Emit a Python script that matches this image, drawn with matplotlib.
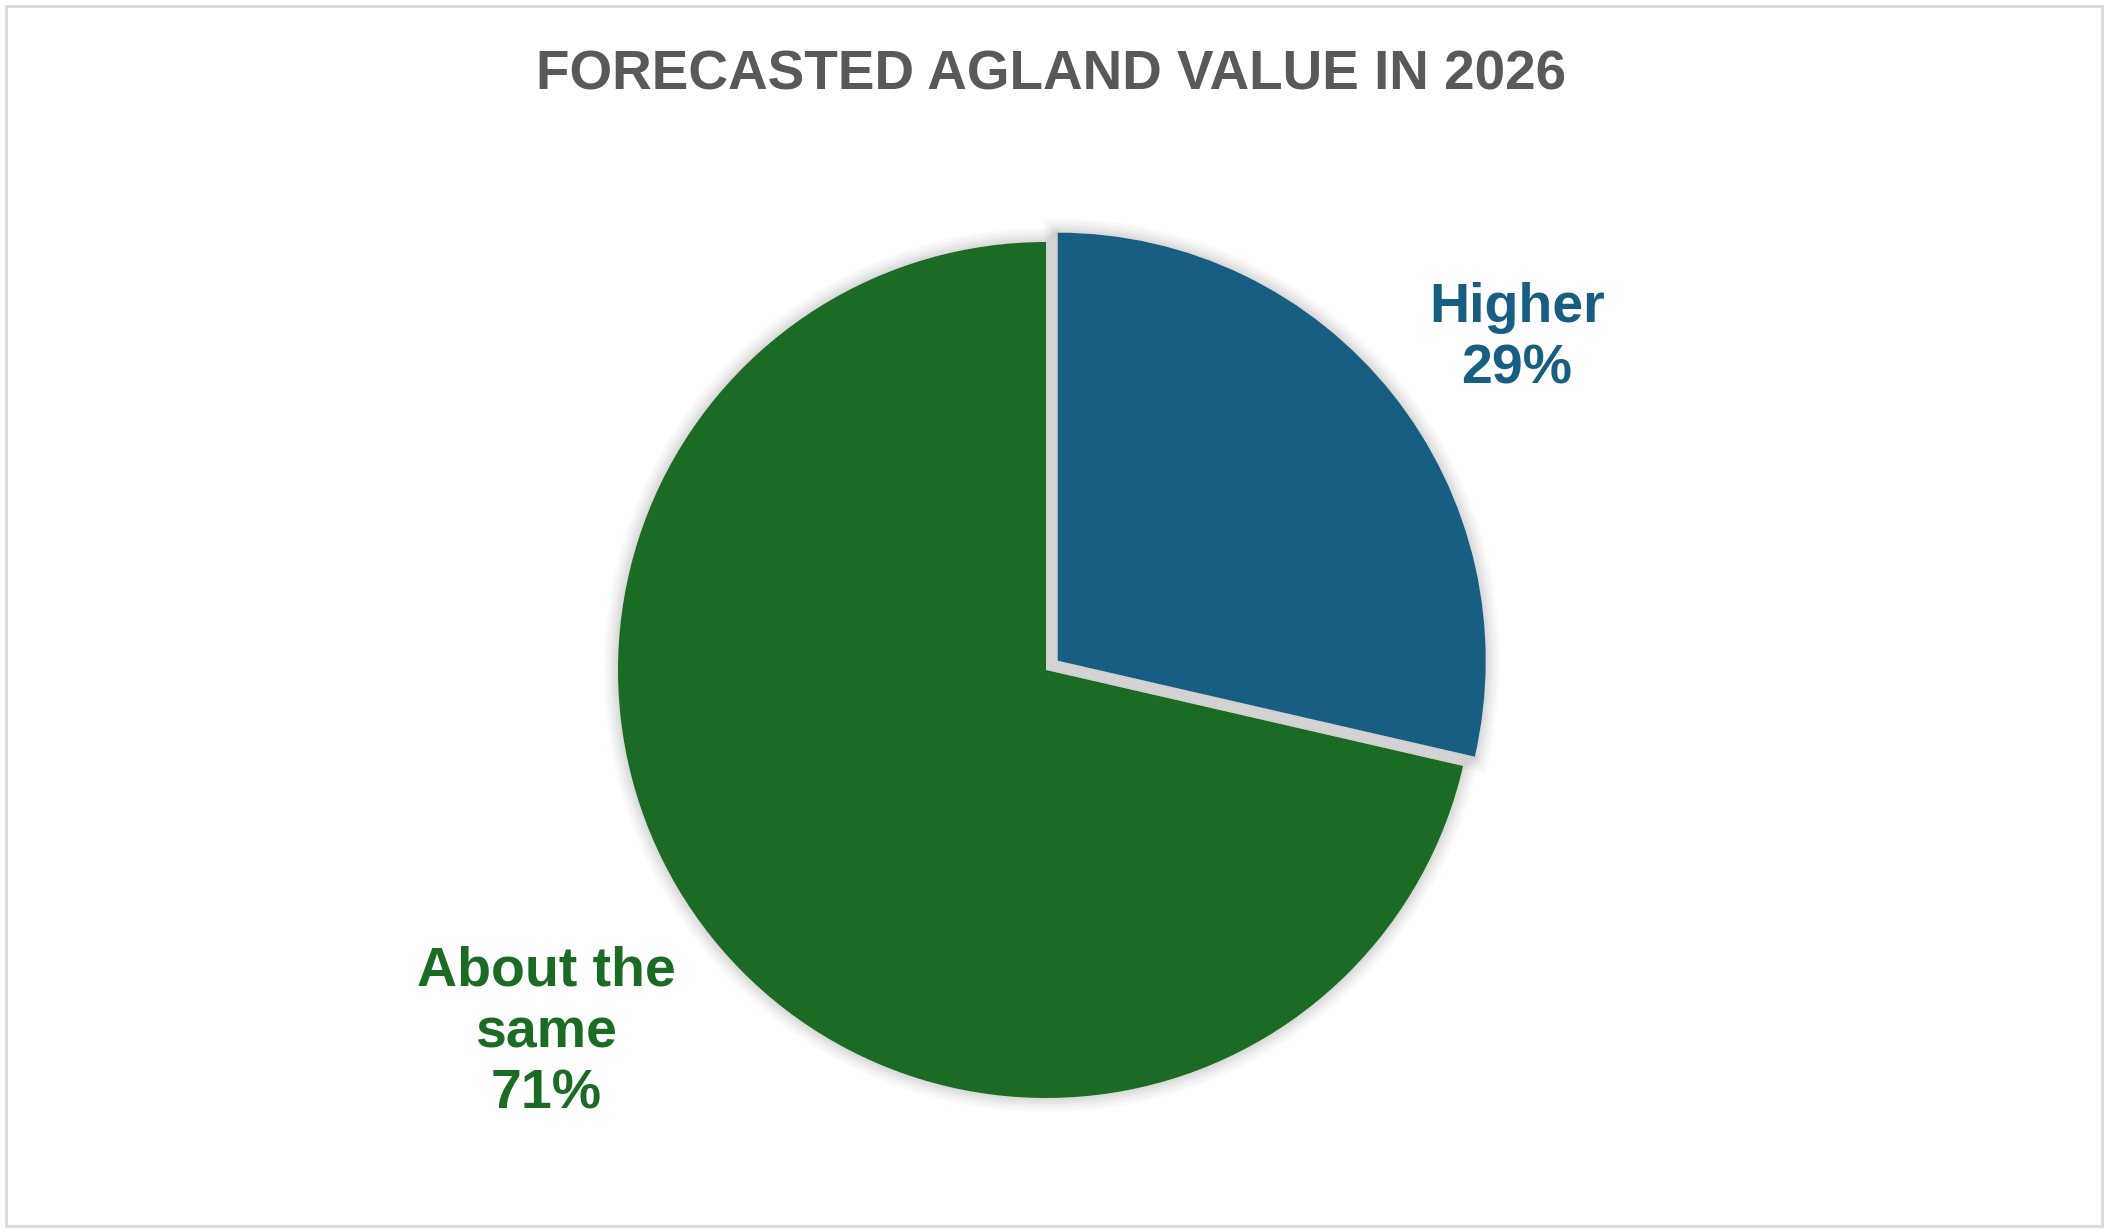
import numpy as np
import matplotlib
matplotlib.use("Agg")
import matplotlib.pyplot as plt
import matplotlib.patheffects as pe
from matplotlib.patches import Rectangle

# data
categories = ["Higher", "About the\nsame"]
shares = [28.6, 71.4]
colors = ["#175E82", "#1B6B25"]

title = "FORECASTED AGLAND VALUE IN 2026"

plt.rcParams["font.family"] = ["Liberation Sans", "DejaVu Sans"]

W, H = 2108, 1232
fig = plt.figure(figsize=(W / 100, H / 100), dpi=100)
ax = fig.add_axes([0, 0, 1, 1])

center = (1046, H - 670)
radius = 428
# pie explode is in data units here, so scale by radius
explode = [0.035 * radius, 0]

# soft shadow pie underneath
shadow_fx = [pe.withStroke(linewidth=lw, foreground="black", alpha=0.022)
             for lw in (20, 16, 12, 9, 6, 3)] + [pe.Normal()]
sh_wedges, _ = ax.pie(shares, explode=explode, startangle=90, counterclock=False,
                      colors=["#e6e6e6", "#e6e6e6"], radius=radius, center=center,
                      wedgeprops=dict(linewidth=0))
for w in sh_wedges:
    w.set_path_effects(shadow_fx)

wedges, _ = ax.pie(shares, explode=explode, startangle=90, counterclock=False,
                   colors=colors, radius=radius, center=center,
                   wedgeprops=dict(linewidth=0))

# label placement: distance (in radii) and angle from each wedge apex
label_pos = [(1.31, 35), (1.443, 216)]
for w, cat, val, col, (d, ang) in zip(wedges, categories, shares, colors, label_pos):
    cx, cy = w.center
    a = np.deg2rad(ang)
    x = cx + d * radius * np.cos(a)
    y = cy + d * radius * np.sin(a)
    ax.text(x, y, f"{cat}\n{val:.0f}%", color=col, fontsize=40, fontweight="bold",
            ha="center", va="center", linespacing=1.24)

ax.set_xlim(0, W)
ax.set_ylim(0, H)
ax.set_aspect("equal")
ax.axis("off")

fig.text(0.4985, 1 - 75 / H, title, color="#595959", fontsize=39.5, fontweight="bold",
         ha="center", va="center")

# thin chart border
fig.patches.append(Rectangle((6 / W, 6 / H), 1 - 12 / W, 1 - 12 / H,
                             transform=fig.transFigure, fill=False,
                             edgecolor="#d9d9d9", linewidth=2))

fig.savefig("out.png", dpi=100, facecolor="white")
